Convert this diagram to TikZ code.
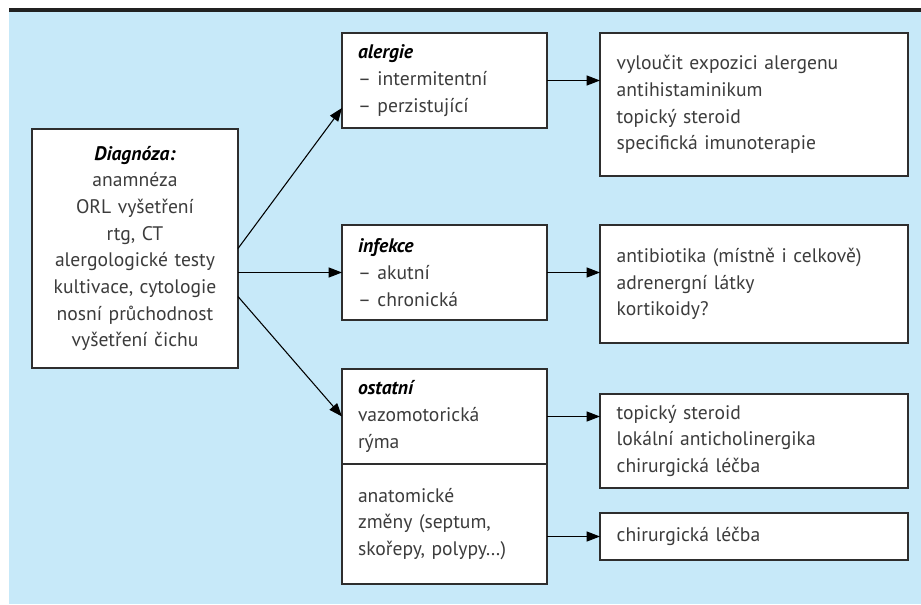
\documentclass[tikz,border=0pt]{standalone}
\usepackage{fontspec}
\setmainfont{PT Sans}
\usetikzlibrary{arrows.meta}
\definecolor{skyback}{HTML}{C7E9F9}
\definecolor{boxtext}{HTML}{3C3C3C}
\definecolor{boxline}{HTML}{2E2E2E}
\newcommand{\boxtitle}[1]{{\color{black}\bfseries\itshape #1}}
\begin{document}
\begin{tikzpicture}[x=0.75pt,y=-0.75pt,inner sep=0pt,outer sep=0pt,
>={Triangle[length=10pt,width=7.5pt]},
conn/.style={->,line width=0.8pt,draw=black},
stagebox/.style={draw=boxline,fill=white,line width=1.1pt,rectangle,text=boxtext,align=left,minimum width=153.75pt,text width=129.75pt,minimum height=71.25pt,font=\fontsize{14.7}{20}\selectfont},
treatbox/.style={stagebox,minimum width=231pt,text width=206pt}]
\useasboundingbox (0,0) rectangle (921,604);
\fill[skyback] (9,11) rectangle (921,604);
\fill[black!87] (9,8) rectangle (921,11.5);
\draw (135,248.5) node[stagebox,align=center,minimum width=154.5pt,text width=150pt,minimum height=179.25pt] (diag) {\boxtitle{Diagnóza:}\\anamnéza\\ORL vyšetření\\rtg, CT\\alergologické testy\\kultivace, cytologie\\nosní průchodnost\\vyšetření čichu};
\draw (444.5,80.5) node[stagebox] (alergie) {\boxtitle{alergie}\\– intermitentní\\– perzistující};
\draw (444.5,272.5) node[stagebox] (infekce) {\boxtitle{infekce}\\– akutní\\– chronická};
\draw (444.5,416.5) node[stagebox] (ostatni) {\boxtitle{ostatní}\\vazomotorická\\rýma};
\draw (444.5,524) node[stagebox,minimum height=90pt] (anatom) {anatomické\\změny (septum,\\skořepy, polypy…)};
\draw (754,104.5) node[treatbox,minimum height=107.25pt] (lecba1) {vyloučit expozici alergenu\\antihistaminikum\\topický steroid\\specifická imunoterapie};
\draw (754,284) node[treatbox,minimum height=88.5pt] (lecba2) {antibiotika (místně i celkově)\\adrenergní látky\\kortikoidy?};
\draw (754,441) node[treatbox,minimum height=70.5pt] (lecba3) {topický steroid\\lokální anticholinergika\\chirurgická léčba};
\draw (754,536.5) node[treatbox,minimum height=35.25pt] (lecba4) {chirurgická léčba};
\draw[conn] (diag.east) -- (alergie.195);
\draw[conn] (diag.east |- infekce.west) -- (infekce.west);
\draw[conn] (diag.-25) -- (ostatni.west);
\draw[conn] (alergie.east) -- (alergie.east -| lecba1.west);
\draw[conn] (infekce.east) -- (infekce.east -| lecba2.west);
\draw[conn] (ostatni.east) -- (ostatni.east -| lecba3.west);
\draw[conn] (anatom.east |- lecba4.west) -- (lecba4.west);
\end{tikzpicture}
\end{document}
